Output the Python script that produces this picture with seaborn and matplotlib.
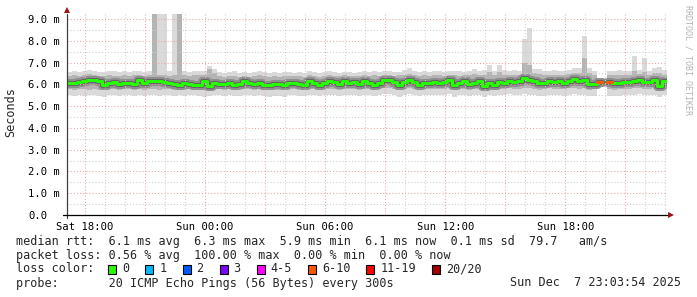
import numpy as np
import matplotlib
matplotlib.use("Agg")
import matplotlib.pyplot as plt
import seaborn as sns
from matplotlib.patches import Rectangle
from matplotlib.ticker import FixedLocator, MultipleLocator

nan = np.nan

# ---------------- data ----------------
t_start_h = 17.08          # hours since Sat 00:00 (Sat ~17:05)
step_h = 0.25              # 15-minute consolidation steps

median_ms = [
 6.05, 6.04, 6.09, 6.16, 6.20, 6.21, 6.13, 5.95, 6.05, 6.10,
 6.01, 6.05, 6.06, 6.01, 6.18, 6.05, 6.13, 6.16, 6.17, 6.10,
 6.05, 6.02, 5.98, 6.08, 6.03, 5.99, 5.97, 6.14, 5.93, 6.07,
 6.02, 6.01, 6.07, 5.95, 6.01, 6.13, 6.05, 6.01, 6.05, 5.98,
 5.95, 6.01, 6.00, 5.95, 6.08, 6.07, 6.02, 5.98, 6.17, 6.07,
 5.96, 6.06, 6.13, 6.12, 6.02, 6.16, 6.06, 6.10, 6.02, 6.13,
 6.08, 5.99, 6.07, 6.18, 6.21, 6.10, 5.96, 6.09, 6.21, 6.10,
 5.98, 6.07, 6.05, 6.10, 6.05, 6.10, 6.20, 5.96, 6.05, 6.13,
 6.02, 6.08, 6.13, 5.91, 6.05, 5.99, 6.10, 6.05, 6.17, 6.10,
 6.14, 6.29, 6.20, 6.13, 6.04, 6.06, 6.17, 6.10, 6.14, 6.08,
 6.17, 6.25, 6.14, 6.20, 6.01, 6.03, 6.10, nan, 6.10, 6.05,
 6.06, 6.12, 6.12, 6.15, 6.19, 6.10, 6.10, 6.18, 5.91, 6.14,
]

smoke_max = [
 6.55, 6.62, 6.58, 6.60, 6.65, 6.60, 6.55, 6.58, 6.62, 6.60,
 6.58, 6.60, 6.55, 6.62, 6.60, 6.58, 6.62, 9.40, 9.40, 9.40,
 6.60, 9.40, 9.40, 6.60, 6.55, 6.60, 6.62, 6.60, 6.85, 6.70,
 6.55, 6.50, 6.55, 6.60, 6.52, 6.55, 6.50, 6.55, 6.60, 6.55,
 6.52, 6.55, 6.50, 6.55, 6.58, 6.52, 6.55, 6.50, 6.60, 6.55,
 6.50, 6.55, 6.60, 6.55, 6.52, 6.58, 6.55, 6.50, 6.55, 6.60,
 6.55, 6.60, 6.58, 6.62, 6.60, 6.55, 6.58, 6.65, 6.75, 6.60,
 6.55, 6.60, 6.58, 6.62, 6.60, 6.58, 6.60, 6.62, 6.60, 6.58,
 6.60, 6.70, 6.62, 6.65, 6.90, 6.60, 6.90, 6.65, 6.60, 6.65,
 6.60, 8.10, 8.60, 6.70, 6.70, 6.62, 6.60, 6.65, 6.60, 6.62,
 6.65, 6.75, 6.75, 8.20, 6.75, 6.60, 6.60, nan, 6.62, 6.60,
 6.65, 6.62, 6.60, 7.30, 6.65, 7.20, 6.60, 6.75, 6.80, 6.65,
]

smoke_hi = [
 6.38, 6.42, 6.40, 6.45, 6.48, 6.45, 6.40, 6.38, 6.42, 6.40,
 6.38, 6.42, 6.40, 6.45, 6.42, 6.40, 6.44, 9.40, 6.45, 6.42,
 6.40, 6.45, 9.40, 6.42, 6.40, 6.42, 6.45, 6.42, 6.70, 6.50,
 6.38, 6.35, 6.38, 6.40, 6.35, 6.38, 6.35, 6.38, 6.42, 6.38,
 6.35, 6.38, 6.35, 6.38, 6.40, 6.36, 6.38, 6.35, 6.42, 6.38,
 6.35, 6.38, 6.42, 6.40, 6.36, 6.42, 6.38, 6.36, 6.40, 6.42,
 6.40, 6.42, 6.40, 6.45, 6.45, 6.40, 6.42, 6.45, 6.48, 6.42,
 6.38, 6.42, 6.40, 6.45, 6.42, 6.40, 6.45, 6.42, 6.40, 6.42,
 6.42, 6.48, 6.45, 6.45, 6.55, 6.42, 6.55, 6.45, 6.42, 6.45,
 6.42, 7.00, 6.90, 6.50, 6.48, 6.45, 6.42, 6.45, 6.42, 6.45,
 6.48, 6.50, 6.50, 7.20, 6.50, 6.42, 6.42, nan, 6.45, 6.42,
 6.45, 6.45, 6.42, 6.60, 6.48, 6.55, 6.42, 6.50, 6.50, 6.45,
]

smoke_lo = [
 5.78, 5.75, 5.80, 5.78, 5.76, 5.80, 5.75, 5.72, 5.78, 5.80,
 5.76, 5.78, 5.80, 5.75, 5.78, 5.76, 5.80, 5.78, 5.75, 5.78,
 5.80, 5.76, 5.78, 5.75, 5.78, 5.80, 5.76, 5.72, 5.75, 5.78,
 5.78, 5.76, 5.80, 5.72, 5.75, 5.80, 5.78, 5.76, 5.78, 5.75,
 5.72, 5.76, 5.75, 5.72, 5.78, 5.80, 5.76, 5.75, 5.80, 5.78,
 5.74, 5.78, 5.80, 5.80, 5.76, 5.80, 5.78, 5.80, 5.76, 5.80,
 5.80, 5.75, 5.78, 5.82, 5.82, 5.80, 5.72, 5.78, 5.82, 5.80,
 5.75, 5.78, 5.78, 5.80, 5.78, 5.80, 5.82, 5.72, 5.78, 5.80,
 5.76, 5.78, 5.80, 5.70, 5.78, 5.75, 5.80, 5.78, 5.82, 5.80,
 5.80, 5.85, 5.82, 5.80, 5.76, 5.78, 5.82, 5.80, 5.80, 5.78,
 5.82, 5.85, 5.80, 5.82, 5.76, 5.78, 5.80, nan, 5.78, 5.76,
 5.78, 5.80, 5.80, 5.82, 5.85, 5.80, 5.80, 5.82, 5.70, 5.80,
]

smoke_min = [
 5.50, 5.48, 5.52, 5.45, 5.50, 5.52, 5.48, 5.42, 5.50, 5.52,
 5.48, 5.50, 5.52, 5.46, 5.50, 5.48, 5.52, 5.50, 5.46, 5.50,
 5.52, 5.48, 5.50, 5.46, 5.50, 5.52, 5.48, 5.44, 5.48, 5.50,
 5.50, 5.48, 5.52, 5.45, 5.48, 5.52, 5.50, 5.48, 5.50, 5.46,
 5.44, 5.48, 5.46, 5.44, 5.50, 5.52, 5.48, 5.46, 5.52, 5.50,
 5.46, 5.50, 5.52, 5.52, 5.48, 5.52, 5.50, 5.52, 5.48, 5.52,
 5.52, 5.46, 5.50, 5.54, 5.54, 5.52, 5.44, 5.50, 5.54, 5.52,
 5.46, 5.50, 5.50, 5.52, 5.50, 5.52, 5.54, 5.44, 5.50, 5.52,
 5.48, 5.50, 5.52, 5.40, 5.50, 5.46, 5.52, 5.50, 5.54, 5.52,
 5.50, 5.55, 5.52, 5.50, 5.46, 5.48, 5.52, 5.50, 5.50, 5.48,
 5.52, 5.55, 5.50, 5.52, 5.46, 5.48, 5.50, nan, 5.48, 5.46,
 5.48, 5.50, 5.50, 5.52, 5.55, 5.50, 5.50, 5.52, 5.40, 5.50,
]

# lost pings (of 20) at the steps that had loss
loss_step_index = [106, 107, 108]
loss_step_count = [8, 20, 8]

loss_labels = ["0", "1", "2", "3", "4-5", "6-10", "11-19", "20/20"]
loss_colors = ["#26ff00", "#00b8ff", "#0059ff", "#7e00ff",
               "#ff00ff", "#ff5500", "#ff0000", "#a10000"]
loss_upper = [0, 1, 2, 3, 5, 10, 19, 20]

x_label_hours = [18, 24, 30, 36, 42]
x_labels = ["Sat 18:00", "Sun 00:00", "Sun 06:00", "Sun 12:00", "Sun 18:00"]
y_ticks = [0, 1, 2, 3, 4, 5, 6, 7, 8, 9]
y_labels = ["0.0", "1.0 m", "2.0 m", "3.0 m", "4.0 m",
            "5.0 m", "6.0 m", "7.0 m", "8.0 m", "9.0 m"]

stat_lines = [
    "median rtt:  6.1 ms avg  6.3 ms max  5.9 ms min  6.1 ms now  0.1 ms sd  79.7   am/s",
    "packet loss: 0.56 % avg  100.00 % max  0.00 % min  0.00 % now",
]
probe_text = "probe:       20 ICMP Echo Pings (56 Bytes) every 300s"
date_text = "Sun Dec  7 23:03:54 2025"

# ---------------- figure ----------------
sns.set_style("white")
plt.rcParams["font.family"] = ["DejaVu Sans Mono", "DejaVu Sans"]

W, H = 697, 297
fig = plt.figure(figsize=(W / 100, H / 100), dpi=100, facecolor="white")
ax_l, ax_r, ax_b, ax_t = 66.5, 667.0, 215.0, 14.0
ax = fig.add_axes([ax_l / W, 1 - ax_b / H, (ax_r - ax_l) / W, (ax_b - ax_t) / H])
ax.set_facecolor("white")

N = len(median_ms)
t_edges = t_start_h + np.arange(N + 1) * step_h
med = np.array(median_ms, dtype=float)


def ext(a):
    a = np.asarray(a, dtype=float)
    return np.r_[a, a[-1]]


# smoke
ax.fill_between(t_edges, ext(smoke_min), ext(smoke_max), step="post",
                color="#dadada", lw=0, zorder=1)
ax.fill_between(t_edges, ext(smoke_lo), ext(smoke_hi), step="post",
                color="#b4b4b4", lw=0, zorder=1.1)


def runs(mask):
    idx = np.flatnonzero(mask)
    if len(idx) == 0:
        return []
    sp = np.where(np.diff(idx) > 1)[0]
    starts = np.r_[idx[0], idx[sp + 1]]
    ends = np.r_[idx[sp], idx[-1]]
    return list(zip(starts, ends))


def step_line(vals, color, lw_px, z):
    for i0, i1 in runs(~np.isnan(vals)):
        xs = t_edges[i0:i1 + 2]
        ys = np.r_[vals[i0:i1 + 1], vals[i1]]
        sns.lineplot(x=xs, y=ys, ax=ax, color=color, lw=lw_px * 0.72,
                     drawstyle="steps-post", estimator=None, sort=False,
                     zorder=z, legend=False)


step_line(med, "#8e8e8e", 9, 1.5)
step_line(med, "#646464", 5, 1.6)

loss = np.zeros(N)
loss[loss_step_index] = loss_step_count
step_line(med, loss_colors[0], 3, 3)
for i in range(N):
    if loss[i] > 0 and not np.isnan(med[i]):
        k = int(np.searchsorted(loss_upper, loss[i]))
        seg = np.full(N, np.nan)
        seg[i] = med[i]
        step_line(seg, loss_colors[k], 3, 3.1)

# axes
ax.set_xlim(t_edges[0], t_edges[-1])
ax.set_ylim(0, (ax_b - ax_t) / 21.78)

major_x = np.arange(18, 47, 3)
ax.xaxis.set_major_locator(FixedLocator(major_x))
ax.xaxis.set_minor_locator(MultipleLocator(1))
ax.set_xticklabels([x_labels[x_label_hours.index(h)] if h in x_label_hours else ""
                    for h in major_x])
ax.yaxis.set_major_locator(FixedLocator(y_ticks))
ax.yaxis.set_minor_locator(MultipleLocator(0.5))
ax.set_yticklabels(y_labels)
for lab in ax.get_yticklabels():
    lab.set_horizontalalignment("left")

ax.set_axisbelow(False)
ax.grid(which="major", color="#f0a0a0", linestyle=(0, (1, 2)), linewidth=0.75, zorder=2.5)
ax.grid(which="minor", color="#cfcfcf", linestyle=(0, (1, 2)), linewidth=0.75, zorder=2.5)

ax.tick_params(axis="y", which="major", direction="out", length=2, width=0.8,
               color="#404040", pad=25.7, labelsize=7.6, labelcolor="#000000")
ax.tick_params(axis="x", which="major", direction="out", length=2, width=0.8,
               color="#404040", pad=3, labelsize=7.6, labelcolor="#000000")
ax.tick_params(which="minor", length=0)

for s in ax.spines.values():
    s.set_visible(False)

# axis lines with arrows
ax.plot([0, 0], [-3 / 201, 1.0], transform=ax.transAxes, color="#404040",
        lw=0.9, clip_on=False, zorder=5)
ax.plot([-4 / 600.5, 1.003], [0, 0], transform=ax.transAxes, color="#000000",
        lw=0.9, clip_on=False, zorder=5)
ax.plot([0], [1 + 3.5 / 201], transform=ax.transAxes, marker="^", ms=4.5,
        color="#991111", clip_on=False, zorder=6, mew=0)
ax.plot([1 + 4.3 / 600.5], [0], transform=ax.transAxes, marker=">", ms=4.5,
        color="#991111", clip_on=False, zorder=6, mew=0)


def px(x, y):
    return x / W, 1 - y / H


fs = 8.5
fig.text(*px(11, 112.5), "Seconds", rotation=90, ha="center", va="center", fontsize=fs)
fig.text(*px(688, 60), "RRDTOOL / TOBI OETIKER", rotation=270, ha="center",
         va="center", fontsize=6, color="#b4b4b4")

row_y = [241, 255, 269, 283]
for txt, y in zip(stat_lines, row_y[:2]):
    fig.text(*px(16, y), txt, ha="left", va="center", fontsize=fs)

fig.text(*px(16, row_y[2]), "loss color:", ha="left", va="center", fontsize=fs)
cw = fs / 72 * 100 * 0.6021
sx = 108.3
for lab, col in zip(loss_labels, loss_colors):
    fig.patches.append(Rectangle(px(sx, row_y[2] + 4.5), 8 / W, 9 / H,
                                 transform=fig.transFigure, facecolor=col,
                                 edgecolor="#000000", lw=0.8))
    fig.text(*px(sx + 14, row_y[2]), lab, ha="left", va="center", fontsize=fs)
    sx += 14 + len(lab) * cw + 16

fig.text(*px(16, row_y[3]), probe_text, ha="left", va="center", fontsize=fs)
fig.text(*px(681, row_y[3]), date_text, ha="right", va="center", fontsize=fs)

fig.savefig("out.png", dpi=100, facecolor="white")
